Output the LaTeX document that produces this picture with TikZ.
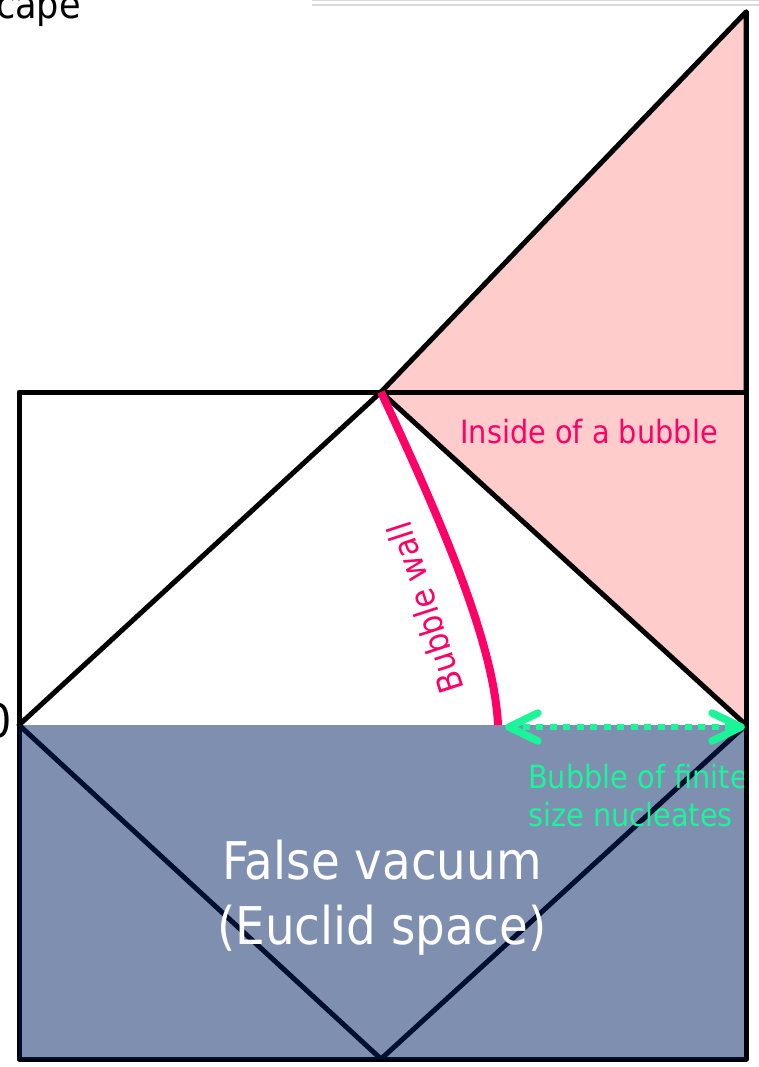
\documentclass[tikz,border=0pt]{standalone}
\usepackage{fontspec}
\newfontfamily\tah[FakeStretch=0.9]{DejaVu Sans}
\definecolor{pinkfill}{HTML}{FFCCCC}
\definecolor{wallpink}{HTML}{FF0066}
\definecolor{nucgreen}{HTML}{1AF59A}
\definecolor{overlayblue}{HTML}{001F5F}
\definecolor{toprule}{HTML}{D9D9D9}
\tikzset{
  frameline/.style={draw=black, line width=5pt, line join=round, line cap=round},
  wallline/.style={draw=wallpink, line width=8pt, line cap=butt},
  dotline/.style={draw=nucgreen, line width=6pt, dash pattern=on 7pt off 6.5pt},
  chev/.style={draw=nucgreen, line width=7.5pt, line cap=round, line join=round},
  lbl/.style={inner sep=0pt, font=\tah\fontsize{32}{38}\selectfont},
}
\begin{document}
\begin{tikzpicture}[x=1pt,y=-1pt]
\useasboundingbox (0,0) rectangle (759,1067);
\clip (0,0) rectangle (759,1067);
% key points
\coordinate (top) at (381,392);
\coordinate (peak) at (746,12);
\coordinate (rt) at (746,392);
\coordinate (lt) at (19,392);
\coordinate (le) at (19,725);
\coordinate (re) at (746,725);
\coordinate (bot) at (381,1059);
\coordinate (bl) at (19,1059);
\coordinate (br) at (746,1059);
\coordinate (wallend) at (498,725);
\coordinate (al) at (509,727);
\coordinate (ar) at (741,727);
% pink region
\fill[pinkfill] (top) -- (peak) -- (re) -- cycle;
% partial texts at edges
\node[anchor=base east, inner sep=0pt, font=\tah\fontsize{39}{44}\selectfont] (cape) at (81,19) {cape};
\node[anchor=base east, inner sep=0pt, font=\tah\fontsize{46}{50}\selectfont] (zero) at (12,737) {0};
\draw[toprule, line width=1.5pt] (312,5) -- (759,5);
\draw[toprule, line width=1pt] (312,0.5) -- (759,0.5);
% black lines
\draw[frameline] (lt) -- (rt) -- (br) -- (bl) -- cycle;
\draw[frameline] (top) -- (peak) -- (rt);
\draw[frameline] (top) -- (re) -- (bot) -- (le) -- cycle;
% false vacuum overlay
\fill[overlayblue, fill opacity=0.5] (le) rectangle (br);
% labels
\node[lbl, text=nucgreen, align=left, anchor=north west] (nuc) at (528,764) {Bubble of finite\\size nucleates};
\draw[frameline] (peak) -- (br);
\node[lbl, text=wallpink] (inside) at (589,432) {Inside of a bubble};
\node[inner sep=0pt, text=white, align=center, font=\tah\fontsize{52}{65}\selectfont] (fv) at (382,898) {False vacuum\\(Euclid space)};
% bubble wall
\draw[wallline] (top) .. controls (437,512) and (494,640) .. (wallend);
\node[inner sep=0pt, text=wallpink, rotate=108, font=\tah\fontsize{34}{40}\selectfont] (wall) at (425,608) {Bubble wall};
% nucleation arrow
\draw[dotline] (al) -- (ar);
\draw[chev] ([shift={(29,-14)}]al) -- (al) -- ([shift={(29,14)}]al);
\draw[chev] ([shift={(-29,-14)}]ar) -- (ar) -- ([shift={(-29,14)}]ar);
\end{tikzpicture}
\end{document}
